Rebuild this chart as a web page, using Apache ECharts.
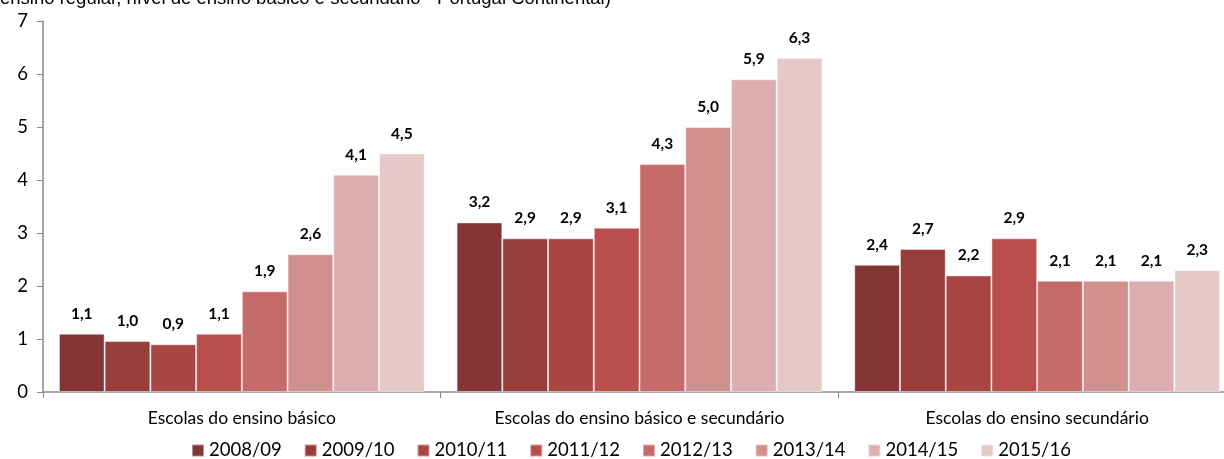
<!DOCTYPE html>
<html>
<head>
<meta charset="utf-8">
<script src="https://cdn.jsdelivr.net/npm/echarts@6/dist/echarts.min.js"></script>
<style>
  html, body { margin: 0; padding: 0; background: #fff; }
  #Bar { width: 1224px; height: 459px; }
</style>
</head>
<body>
<div id="Bar"></div>
<script>
const categories = ['Escolas do ensino básico', 'Escolas do ensino básico e secundário', 'Escolas do ensino secundário']
const years = ['2008/09', '2009/10', '2010/11', '2011/12', '2012/13', '2013/14', '2014/15', '2015/16']
const colors = ['#843535', '#973d3b', '#a84644', '#b94f4c', '#c56b69', '#d18f8e', '#dcaeaf', '#e6c8c9']
// one array per school year: [básico, básico e secundário, secundário]
const y0809 = [1.1, 3.2, 2.4]
const y0910 = [0.96, 2.9, 2.7]
const y1011 = [0.9, 2.9, 2.2]
const y1112 = [1.1, 3.1, 2.9]
const y1213 = [1.9, 4.3, 2.1]
const y1314 = [2.6, 5.0, 2.1]
const y1415 = [4.1, 5.9, 2.1]
const y1516 = [4.5, 6.3, 2.3]
const values = [y0809, y0910, y1011, y1112, y1213, y1314, y1415, y1516]
const yTicks = [0, 1, 2, 3, 4, 5, 6, 7]

const Bar = echarts.init(document.getElementById('Bar'))
const font = 'Lato, "Open Sans", sans-serif'

Bar.setOption({
  animation: false,
  color: colors,
  textStyle: { fontFamily: font },
  graphic: [
    {
      // subtitle is cut at the top edge of the picture
      type: 'text',
      left: 0,
      top: -11,
      style: {
        text: 'ensino regular, nível de ensino básico e secundário - Portugal Continental)',
        font: '18.5px "Liberation Sans", Arial, sans-serif',
        fill: '#000'
      }
    }
  ],
  legend: {
    data: years,
    top: 436,
    left: 186,
    itemWidth: 12,
    itemHeight: 12,
    itemGap: 22,
    icon: 'rect',
    textStyle: { fontSize: 18.5, color: '#000', fontFamily: font }
  },
  grid: {
    left: 43,
    width: 1193,
    top: 21,
    bottom: 67,
    outerBoundsMode: 'none',
    containLabel: false
  },
  xAxis: {
    type: 'category',
    data: categories,
    axisLine: { lineStyle: { color: '#8a8a8a', width: 1.5 } },
    axisTick: { show: true, length: 6, lineStyle: { color: '#8a8a8a' } },
    axisLabel: { fontSize: 17.5, color: '#000', margin: 17, fontFamily: font }
  },
  yAxis: {
    type: 'value',
    min: yTicks[0],
    max: yTicks[yTicks.length - 1],
    interval: 1,
    splitLine: { show: false },
    axisLine: { show: true, lineStyle: { color: '#8a8a8a', width: 1.5 } },
    axisTick: { show: true, length: 6, lineStyle: { color: '#8a8a8a' } },
    axisLabel: { fontSize: 18.5, color: '#000', margin: 15, fontFamily: font }
  },
  series: years.map((name, i) => ({
    name: name,
    type: 'bar',
    data: values[i],
    barGap: '0%',
    barCategoryGap: '8%',
    itemStyle: { borderColor: 'rgba(255,255,255,0.45)', borderWidth: 1 },
    label: {
      show: true,
      position: 'top',
      distance: 12,
      fontSize: 15.5,
      fontWeight: 'bold',
      color: '#000',
      fontFamily: font,
      formatter: p => p.value.toFixed(1).replace('.', ',')
    }
  }))
})
window.addEventListener('resize', () => Bar.resize())
</script>
</body>
</html>
